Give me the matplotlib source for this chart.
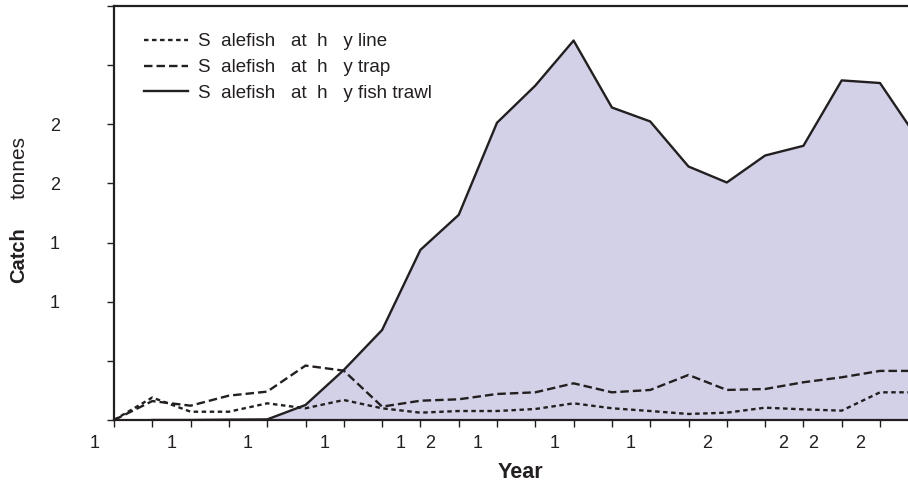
import numpy as np
import matplotlib.pyplot as plt
import matplotlib.transforms as mtransforms

# === general settings ===
plt.rcParams['font.family'] = ['Liberation Sans', 'DejaVu Sans']
plt.rcParams['text.color'] = '#231f20'

# === data (tonnes per year) ===
years = list(range(1984, 2006))
line_catch = [0, 190, 70, 70, 141, 99, 169, 99, 62, 76, 76, 93, 141, 99, 76, 51, 62, 104, 90, 79, 234, 234]
trap_catch = [0, 160, 121, 206, 240, 460, 417, 113, 163, 175, 220, 234, 310, 234, 254, 381, 254, 262, 319, 361, 415, 415]
trawl_catch = [np.nan, 0, 0, 3, 5, 127, 423, 761, 1438, 1734, 2513, 2827, 3208, 2642, 2524, 2143, 2008, 2236, 2318, 2871, 2849, 2370]

labels = ['S  alefish   at  h   y line',
          'S  alefish   at  h   y trap',
          'S  alefish   at  h   y fish trawl']

# tick labels as they appear (glyphs missing in the source figure)
x_ticks = list(range(1984, 2005))
x_ticklabels = ['1      ', '', '1      ', '', '1      ', '', '1      ', '', '1    2', '',
                '1      ', '', '1      ', '', '1      ', '', '2      ', '', '2    2', '', '2      ']
y_ticks = [0, 500, 1000, 1500, 2000, 2500, 3000, 3500]
y_ticklabels = ['', '', '1', '1', '2', '2', '', '']

ink = '#231f20'
fill_col = '#d3d1e7'

fig = plt.figure(figsize=(9.08, 4.88), dpi=100)
ax = fig.add_axes([114 / 908, 1 - 420 / 488, 1 - 114 / 908, (420 - 6) / 488])

ax.fill_between(years, trawl_catch, 0, color=fill_col, lw=0)
ax.plot(years, line_catch, color=ink, lw=1.7, dashes=(1.9, 1.5), label=labels[0])
ax.plot(years, trap_catch, color=ink, lw=1.7, dashes=(3.6, 1.7), label=labels[1])
ax.plot(years, trawl_catch, color=ink, lw=1.7, label=labels[2])

ax.set_xlim(1984, 1984 + 794 / 38.3)
ax.set_ylim(0, 3500)

ax.set_xticks(x_ticks)
ax.set_xticklabels(x_ticklabels, fontsize=13)
ax.set_yticks(y_ticks)
ax.set_yticklabels(y_ticklabels, fontsize=13)
ax.tick_params(axis='x', direction='out', length=5, width=1, color=ink, pad=6, labelcolor=ink)
ax.tick_params(axis='y', direction='out', length=5, width=1, color=ink, pad=37.5, labelcolor=ink)
for lbl in ax.get_yticklabels():
    lbl.set_horizontalalignment('center')
shift = mtransforms.ScaledTranslation(-0.04, 0, fig.dpi_scale_trans)
for lbl in ax.get_xticklabels():
    lbl.set_transform(lbl.get_transform() + shift)

for side in ['left', 'bottom', 'top']:
    ax.spines[side].set_linewidth(1.6)
    ax.spines[side].set_color(ink)
ax.spines['right'].set_visible(False)

# axis titles
fig.text(520 / 908, 1 - 473 / 488, 'Year', fontsize=15.5, fontweight='bold', ha='center', va='center')
fig.text(19 / 908, 1 - 255 / 488, 'Catch', fontsize=14.5, fontweight='bold', rotation=90, ha='center', va='center')
fig.text(19 / 908, 1 - 168 / 488, 'tonnes', fontsize=15, rotation=90, ha='center', va='center')

ax.legend(loc='upper left', bbox_to_anchor=(0.017, 0.975), frameon=False, fontsize=13.5,
          handlelength=2.35, handletextpad=0.5, labelspacing=0.46)

plt.savefig('out.png', dpi=100)
